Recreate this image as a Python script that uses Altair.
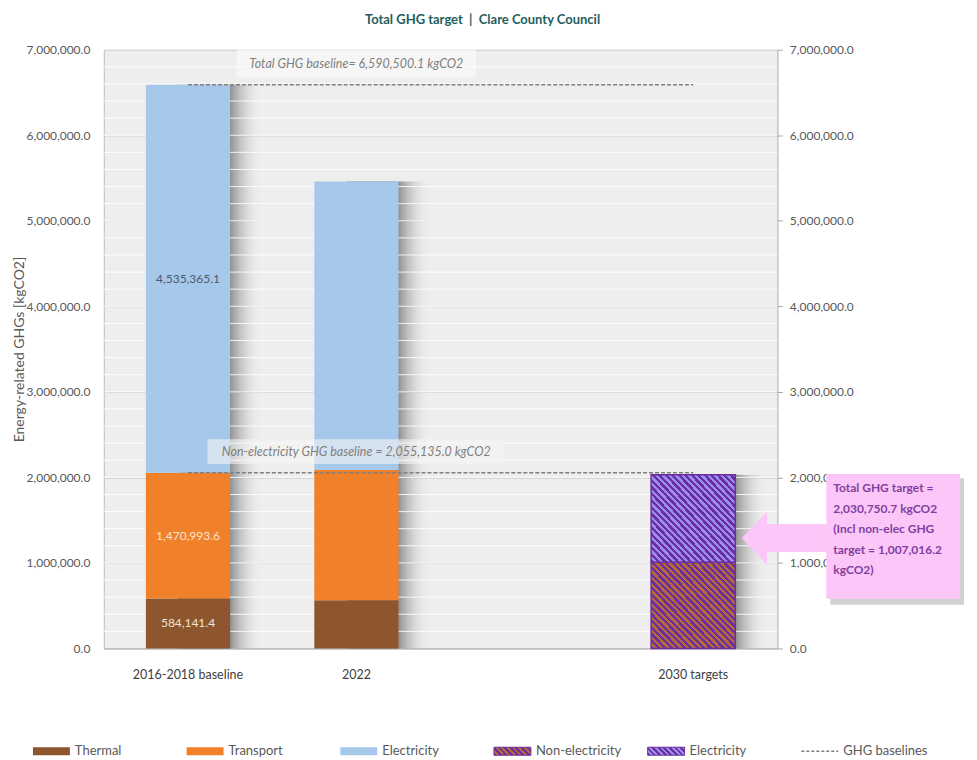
import altair as alt
import pandas as pd

# ---------------- data ----------------
categories = ["2016-2018 baseline", "2022", " ", "2030 targets"]
components = ["Thermal", "Transport", "Electricity"]
thermal = [584141.4, 565000.0]
transport = [1470993.6, 1521000.0]
electricity = [4535365.1, 3374000.0]
target_nonelec = 1007016.2
target_total = 2030750.7
baseline_total = 6590500.1
baseline_nonelec = 2055135.0
y_ticks = [0, 1000000, 2000000, 3000000, 4000000, 5000000, 6000000, 7000000]
minor_grid = list(range(200000, 7000000, 200000))
legend_keys = ["thermal", "transport", "electricity", "nonelec_t", "elec_t", "baselines"]
legend_labels = ["Thermal", "Transport", "Electricity", "Non-electricity", "Electricity", "GHG baselines"]

comp_colors = ["#8E562E", "#F0802A", "#A6C8EA"]
FONT = "Lato"

# ---------------- tables ----------------
rows = []
for i, cat in enumerate(categories[:2]):
    for j, (comp, vals) in enumerate(zip(components, [thermal, transport, electricity])):
        rows.append({"cat": cat, "component": comp, "value": vals[i], "idx": j})
stack_df = pd.DataFrame(rows)

lab = stack_df[stack_df["cat"] == categories[0]].copy()
lab["top"] = lab["value"].cumsum()
lab["mid"] = lab["top"] - lab["value"] / 2
lab["txt"] = lab["value"].map(lambda v: f"{v:,.1f}")
label_colors = ["#F3E4D8", "#FCE4D2", "#4A5A70"]
lab["tcol"] = label_colors

totals_df = pd.DataFrame({
    "cat": categories[:2] + [categories[3]],
    "total": [thermal[0] + transport[0] + electricity[0],
              thermal[1] + transport[1] + electricity[1],
              target_total],
})

tgt_nonelec_df = pd.DataFrame({"cat": [categories[3]], "lo": [0.0], "hi": [target_nonelec]})
tgt_elec_df = pd.DataFrame({"cat": [categories[3]], "lo": [target_nonelec], "hi": [target_total]})

base_df = pd.DataFrame({
    "start": [categories[0], categories[0]],
    "end": [categories[3], categories[3]],
    "value": [baseline_total, baseline_nonelec],
})
grid_df = pd.DataFrame({"v": minor_grid})
leg_df = pd.DataFrame({"key": legend_keys, "label": legend_labels})
leg_solid = pd.DataFrame({"key": legend_keys[:3], "component": components})

# ---------------- helpers ----------------
def stripes(c1, c2, n, x1, y1, x2, y2):
    stops = []
    for k in range(n):
        a, m, b = k / n, (k + 0.5) / n, (k + 1) / n
        stops += [alt.GradientStop(offset=round(a, 5), color=c1),
                  alt.GradientStop(offset=round(m, 5), color=c1),
                  alt.GradientStop(offset=round(m, 5), color=c2),
                  alt.GradientStop(offset=round(b, 5), color=c2)]
    return alt.LinearGradient(gradient="linear", stops=stops, x1=x1, y1=y1, x2=x2, y2=y2)

PURPLE = "#6B2E9E"
hatch_nonelec = stripes(PURPLE, "#B8693A", 26, 0, 1, 1, 0)
hatch_elec = stripes(PURPLE, "#9A8CF0", 26, 0, 1, 1, 0)
hatch_nonelec_s = stripes(PURPLE, "#B8693A", 8, -0.08, 0.625, 1.08, 0.375)
hatch_elec_s = stripes(PURPLE, "#9A8CF0", 8, -0.08, 0.625, 1.08, 0.375)

shadow_grad = alt.LinearGradient(
    gradient="linear", x1=0, y1=0, x2=1, y2=0,
    stops=[alt.GradientStop(offset=0, color="#7d7d7d"),
           alt.GradientStop(offset=0.6, color="#868686"),
           alt.GradientStop(offset=1, color="rgba(238,238,238,0)")])

yscale = alt.Scale(domain=[0, 7000000], nice=False, zero=True)
xscale = alt.Scale(domain=categories, paddingInner=0.5, paddingOuter=0.25)

left_axis = alt.Axis(values=y_ticks, format=",.1f", title="Energy-related GHGs [kgCO2]",
                     labelFont=FONT, labelFontSize=12, labelColor="#595959",
                     ticks=False, labelPadding=14, domainColor="#BFBFBF",
                     gridColor="#CFCFCF", titleFont=FONT, titleFontSize=14,
                     titleColor="#595959", titleFontWeight="normal",
                     titlePadding=0, minExtent=77, maxExtent=77)
x_axis = alt.Axis(title=None, labelFont=FONT, labelFontSize=12.5, labelColor="#404040",
                  ticks=False, labelPadding=20, domainColor="#A6A6A6", labelAngle=0,
                  grid=False)

X = alt.X("cat:N", scale=xscale, axis=x_axis, sort=categories)

# ---------------- main layers ----------------
shadows = alt.Chart(totals_df).mark_bar(fill=shadow_grad, xOffset=32).encode(
    x=X, y=alt.Y("total:Q", scale=yscale, axis=left_axis))

minor = alt.Chart(grid_df).mark_rule(color="white", strokeWidth=1, opacity=0.85).encode(
    y=alt.Y("v:Q", scale=yscale))

bars = alt.Chart(stack_df).mark_bar().encode(
    x=X,
    y=alt.Y("value:Q", stack="zero", scale=yscale),
    color=alt.Color("component:N", scale=alt.Scale(domain=components, range=comp_colors), legend=None),
    order=alt.Order("idx:Q"),
)

hatch1 = alt.Chart(tgt_nonelec_df).mark_bar(fill=hatch_nonelec, stroke=PURPLE, strokeWidth=1.5).encode(
    x=X, y=alt.Y("lo:Q", scale=yscale), y2="hi:Q")
hatch2 = alt.Chart(tgt_elec_df).mark_bar(fill=hatch_elec, stroke=PURPLE, strokeWidth=1.5).encode(
    x=X, y=alt.Y("lo:Q", scale=yscale), y2="hi:Q")

dashes = alt.Chart(base_df).mark_rule(color="#7F7F7F", strokeDash=[4, 2], strokeWidth=1.5).encode(
    x=alt.X("start:N", scale=xscale, bandPosition=0.5),
    x2=alt.X2("end:N", bandPosition=0.5),
    y=alt.Y("value:Q", scale=yscale),
)

# annotation boxes and texts for baselines
box1 = alt.Chart(pd.DataFrame({"a": [0]})).mark_rect(fill="rgba(252,252,252,0.6)").encode(
    x=alt.value(133), x2=alt.value(373),
    y=alt.datum(baseline_total + 410000), y2=alt.datum(baseline_total + 90000))
txt1 = alt.Chart(pd.DataFrame({"t": [f"Total GHG baseline= {baseline_total:,.1f} kgCO2"]})).mark_text(
    font=FONT, fontSize=12.5, fontStyle="italic", color="#7F7F7F", align="center", baseline="middle").encode(
    x=alt.value(253), y=alt.datum(baseline_total + 240000), text="t:N")
box2 = alt.Chart(pd.DataFrame({"a": [0]})).mark_rect(fill="rgba(245,245,245,0.6)").encode(
    x=alt.value(104), x2=alt.value(401),
    y=alt.datum(baseline_nonelec + 390000), y2=alt.datum(baseline_nonelec + 100000))
txt2 = alt.Chart(pd.DataFrame({"t": [f"Non-electricity GHG baseline = {baseline_nonelec:,.1f} kgCO2"]})).mark_text(
    font=FONT, fontSize=12.5, fontStyle="italic", color="#7F7F7F", align="center", baseline="middle").encode(
    x=alt.value(253), y=alt.datum(baseline_nonelec + 240000), text="t:N")

# data labels on baseline bar
dlabels = alt.Chart(lab).mark_text(font=FONT, fontSize=12, baseline="middle").encode(
    x=X, y=alt.Y("mid:Q", scale=yscale), text="txt:N",
    color=alt.Color("tcol:N", scale=None))

# callout
arrow_path = "M -1 0 L -0.41 -0.635 L -0.41 -0.33 L 1 -0.33 L 1 0.33 L -0.41 0.33 L -0.41 0.635 Z"
arrow = alt.Chart(pd.DataFrame({"a": [0]})).mark_point(
    shape=arrow_path, size=85 * 85, filled=True, fill="#FDC6F8", strokeWidth=0, opacity=1).encode(
    x=alt.value(682), y=alt.datum(1290000))
cshadow = alt.Chart(pd.DataFrame({"a": [0]})).mark_rect(fill="#000000", opacity=0.18).encode(
    x=alt.value(728), x2=alt.value(862),
    y=alt.datum(1990000), y2=alt.datum(510000))
cbox = alt.Chart(pd.DataFrame({"a": [0]})).mark_rect(fill="#FDC6F8").encode(
    x=alt.value(724), x2=alt.value(858),
    y=alt.datum(2040000), y2=alt.datum(580000))
callout_lines = ["Total GHG target =", f"{target_total:,.1f} kgCO2", "(Incl non-elec GHG",
                 f"target = {target_nonelec:,.1f}", "kgCO2)"]
ctext = alt.Chart(pd.DataFrame({"a": [0]})).mark_text(
    font=FONT, fontSize=12, fontWeight="bold", color="#8040A0", align="left", baseline="top",
    lineHeight=20.5).encode(
    x=alt.value(731), y=alt.datum(1930000), text=alt.value(callout_lines))

main = alt.layer(shadows, minor, bars, hatch1, hatch2, dashes, box1, box2, txt1, txt2,
                 dlabels, arrow, cshadow, cbox, ctext)

# right axis
right = alt.Chart(base_df).mark_rule(opacity=0).encode(
    y=alt.Y("value:Q", scale=yscale,
            axis=alt.Axis(orient="right", values=y_ticks, format=",.1f", title=None,
                          labelFont=FONT, labelFontSize=12, labelColor="#595959",
                          tickSize=5, tickColor="#A6A6A6", labelPadding=7,
                          domainColor="#A6A6A6", grid=False)))

# legend
lscale = alt.Scale(domain=legend_keys, range=[-71, 853], paddingInner=0, paddingOuter=0)
LX = alt.X("key:N", scale=lscale, axis=None, sort=legend_keys)
LY = 703
leg_sw = alt.Chart(leg_solid).mark_bar(width=37, xOffset=-58.5).encode(
    x=LX, y=alt.value(LY - 4), y2=alt.value(LY + 4),
    color=alt.Color("component:N", scale=alt.Scale(domain=components, range=comp_colors), legend=None))
leg_h1 = alt.Chart(leg_df[leg_df["key"] == "nonelec_t"]).mark_bar(
    width=37, xOffset=-58.5, fill=hatch_nonelec_s, stroke=PURPLE, strokeWidth=1).encode(
    x=LX, y=alt.value(LY - 4), y2=alt.value(LY + 4))
leg_h2 = alt.Chart(leg_df[leg_df["key"] == "elec_t"]).mark_bar(
    width=37, xOffset=-58.5, fill=hatch_elec_s, stroke=PURPLE, strokeWidth=1).encode(
    x=LX, y=alt.value(LY - 4), y2=alt.value(LY + 4))
leg_dash = alt.Chart(leg_df[leg_df["key"] == "baselines"]).mark_point(
    shape="M -1 0 L 1 0", size=37 * 37, filled=False, stroke="#7F7F7F", strokeWidth=1.5,
    strokeDash=[3, 2], opacity=1, xOffset=-58.5).encode(x=LX, y=alt.value(LY))
leg_txt = alt.Chart(leg_df).mark_text(font=FONT, fontSize=13, color="#595959", align="left",
                                      baseline="middle", dx=-35).encode(
    x=LX, y=alt.value(LY), text="label:N")
legend = alt.layer(leg_sw, leg_h1, leg_h2, leg_dash, leg_txt)

NB = "\u00a0"
title_text = f"Total GHG target{NB}{NB}|{NB}{NB}Clare County Council"

chart = alt.layer(main, right, legend).resolve_scale(y="independent", x="independent").properties(
    width=675, height=600, background="white",
    title=alt.TitleParams(title_text, font=FONT, fontSize=13,
                          fontWeight="bold", color="#1F5E5B", anchor="middle", offset=17, dx=42),
).configure_view(fill="#EEEEEE", stroke=None)

chart.save("out.html", embed_options={"renderer": "svg", "actions": False})
